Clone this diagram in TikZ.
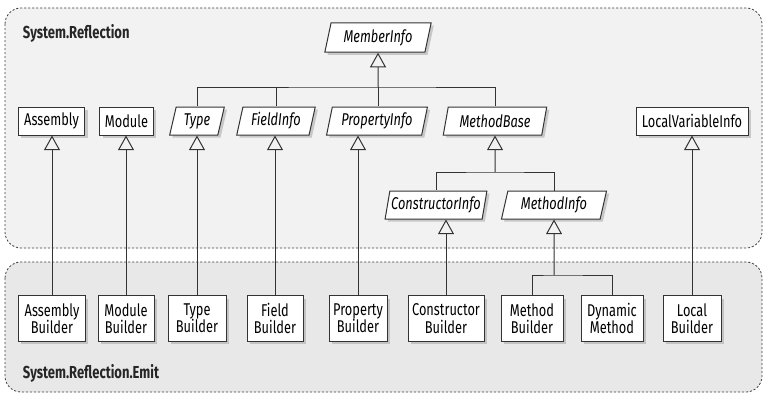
\documentclass[tikz,border=0pt]{standalone}
\usepackage{fontspec}
\setmainfont{Fira Sans}[FakeStretch=0.75]
\usetikzlibrary{shapes.geometric,shadows,arrows.meta}
\begin{document}
\begin{tikzpicture}[x=0.75pt, y=-0.75pt, font=\fontsize{12.8}{13}\selectfont, line width=0.75pt,
    cls/.style={draw=black!80, fill=white, inner sep=1pt, minimum height=21pt,
      drop shadow={shadow xshift=2pt, shadow yshift=-2pt, fill=black!35, opacity=0.55}},
    abs/.style={cls, trapezium, trapezium left angle=76, trapezium right angle=104,
      trapezium stretches=true, font=\fontsize{12.8}{13}\selectfont\itshape},
    bld/.style={cls, minimum height=34pt, align=center},
    inh/.style={draw=black!80, -{Triangle[open, width=12pt, length=11pt]}},
    area/.style={draw=black!75, dash pattern=on 1.6pt off 1.4pt, rounded corners=12pt, line width=0.6pt},
    pkg/.style={anchor=base west, font=\fontsize{13}{14}\selectfont\bfseries, text=black!85}]
    \useasboundingbox (0,0) rectangle (764,393);
    \draw[area, fill=black!5] (5,8) rectangle (762,248);
    \draw[area, fill=black!9] (5,262) rectangle (762,392);
    \node[pkg] (sr) at (18,38) {System.Reflection};
    \node[pkg] (sre) at (18,378) {System.Reflection.Emit};
    \node[abs, minimum width=80pt, minimum height=22pt] (mi) at (378,37.5) {MemberInfo};
    \node[cls, minimum width=50pt] (asm) at (51.5,121) {Assembly};
    \node[cls, minimum width=40pt] (mod) at (126.5,121) {Module};
    \node[abs, minimum width=41pt] (typ) at (197,121) {Type};
    \node[abs, minimum width=59pt] (fi) at (276,121) {FieldInfo};
    \node[abs, minimum width=76pt] (pi) at (377,121) {PropertyInfo};
    \node[abs, minimum width=78pt] (mbase) at (495,121) {MethodBase};
    \node[cls, minimum width=84pt] (lvi) at (692,121) {LocalVariableInfo};
    \node[abs, minimum width=75pt] (ci) at (436,205) {ConstructorInfo};
    \node[abs, minimum width=79pt] (mthi) at (554,205) {MethodInfo};
    \node[bld, minimum width=50pt] (asmb) at (52,318.5) {Assembly\\Builder};
    \node[bld, minimum width=42pt] (modb) at (126,318.5) {Module\\Builder};
    \node[bld, minimum width=43.5pt] (typb) at (197,318.5) {Type\\Builder};
    \node[bld, minimum width=42pt] (fib) at (275,318.5) {Field\\Builder};
    \node[bld, minimum width=43.5pt] (pb) at (358,318.5) {Property\\Builder};
    \node[bld, minimum width=57pt] (cb) at (446,318.5) {Constructor\\Builder};
    \node[bld, minimum width=46.5pt] (mb) at (532,318.5) {Method\\Builder};
    \node[bld, minimum width=46.5pt] (dm) at (612,318.5) {Dynamic\\Method};
    \node[bld, minimum width=43.5pt] (lb) at (692,318.5) {Local\\Builder};
    \coordinate (bar1) at (378,87);
    \coordinate (bar2) at (495,172);
    \coordinate (bar3) at (554,275);
    \draw[inh] (bar1) -- (mi);
    \draw[draw=black!80] (typ.north) |- (bar1) -| (mbase.north);
    \draw[draw=black!80] (fi.north) -- (fi.north |- bar1);
    \draw[draw=black!80] (bar1) -- (bar1 |- pi.north);
    \draw[inh] (bar2) -- (mbase);
    \draw[draw=black!80] (ci.north) |- (bar2) -| (mthi.north);
    \draw[inh] (bar3) -- (mthi);
    \draw[draw=black!80] (mb.north) |- (bar3) -| (dm.north);
    \draw[inh] (asmb.north) -- (asmb.north |- asm.south);
    \draw[inh] (modb.north) -- (modb.north |- mod.south);
    \draw[inh] (typb.north) -- (typb.north |- typ.south);
    \draw[inh] (fib.north) -- (fib.north |- fi.south);
    \draw[inh] (pb.north) -- (pb.north |- pi.south);
    \draw[inh] (cb.north) -- (cb.north |- ci.south);
    \draw[inh] (lb.north) -- (lb.north |- lvi.south);
\end{tikzpicture}
\end{document}
